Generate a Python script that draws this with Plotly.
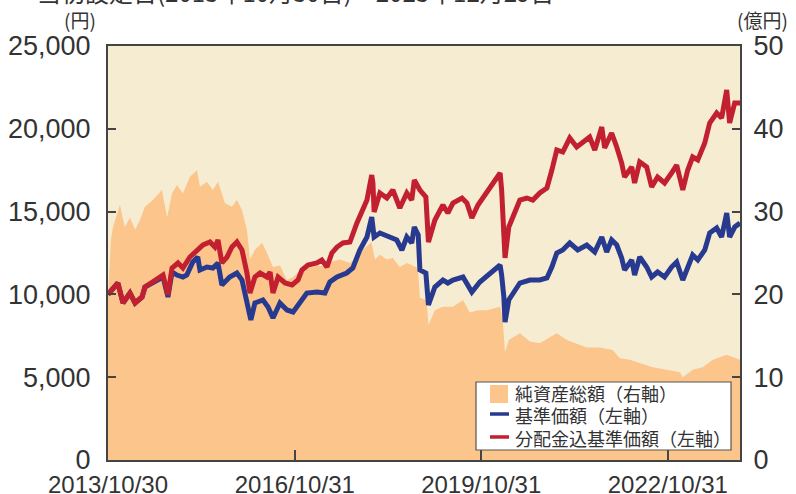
import plotly.graph_objects as go

# ---------------- data ----------------
nav_dates = [
    "2013-10-30", "2013-11-16", "2013-11-28", "2014-01-08", "2014-02-06", "2014-03-08",
    "2014-04-07", "2014-05-06", "2014-06-04", "2014-07-21", "2014-09-12", "2014-10-12",
    "2014-11-10", "2014-12-09", "2015-01-13", "2015-02-23", "2015-04-06", "2015-04-23",
    "2015-06-03", "2015-07-08", "2015-08-07", "2015-09-17", "2015-10-28", "2015-11-26",
    "2015-12-26", "2016-01-24", "2016-02-11", "2016-03-11", "2016-04-22", "2016-05-21",
    "2016-06-25", "2016-08-05", "2016-09-15", "2016-10-21", "2016-12-01", "2017-01-16",
    "2017-03-10", "2017-04-14", "2017-05-25", "2017-07-23", "2017-09-20", "2017-10-31",
    "2017-12-05", "2018-01-24", "2018-02-14", "2018-03-15", "2018-04-25", "2018-05-30",
    "2018-07-10", "2018-08-20", "2018-09-24", "2018-10-24", "2018-11-05", "2018-12-14",
    "2018-12-25", "2019-02-01", "2019-03-20", "2019-05-18", "2019-07-16", "2019-08-25",
    "2019-10-12", "2019-12-03", "2020-02-19", "2020-03-05", "2020-03-19", "2020-04-10",
    "2020-06-14", "2020-08-12", "2020-10-09", "2020-11-25", "2021-01-17", "2021-03-17",
    "2021-05-14", "2021-07-12", "2021-09-26", "2021-12-11", "2022-01-22", "2022-03-21",
    "2022-05-19", "2022-08-03", "2022-10-24", "2023-01-10", "2023-01-27", "2023-03-26",
    "2023-05-24", "2023-07-22", "2023-10-12", "2023-12-29",
]
nav_values = [  # 純資産総額 (億円)
    19.7, 26.6, 28.1, 30.8, 28.1, 29.3,
    27.8, 29.0, 30.6, 31.4, 32.6, 29.3,
    32.2, 33.2, 32.2, 34.2, 35.0, 33.0,
    33.6, 32.6, 33.6, 31.0, 30.6, 31.4,
    30.2, 27.8, 24.2, 25.4, 26.2, 25.0,
    23.3, 23.5, 21.7, 22.1, 22.9, 23.2,
    23.5, 23.4, 23.9, 24.2, 23.8, 24.5,
    25.4, 26.3, 24.2, 24.8, 24.2, 24.4,
    23.3, 23.8, 23.5, 23.2, 19.6, 19.3,
    16.3, 18.1, 18.5, 18.5, 19.3, 17.8,
    18.1, 18.1, 18.5, 16.9, 13.0, 14.5,
    15.3, 14.3, 14.1, 14.7, 15.3, 14.5,
    14.1, 13.6, 13.6, 13.3, 12.3, 12.1,
    11.7, 11.2, 10.9, 10.6, 10.0, 10.9,
    11.2, 12.1, 12.7, 12.1,
]

base_dates = [
    "2013-10-30", "2013-11-22", "2013-12-27", "2014-01-26", "2014-03-08", "2014-04-07",
    "2014-05-18", "2014-06-04", "2014-07-21", "2014-09-18", "2014-10-17", "2014-11-10",
    "2014-12-09", "2015-01-13", "2015-02-05", "2015-03-12", "2015-04-10", "2015-04-23",
    "2015-06-03", "2015-07-08", "2015-08-07", "2015-08-30", "2015-10-15", "2015-11-26",
    "2015-12-26", "2016-01-24", "2016-02-16", "2016-03-11", "2016-04-27", "2016-05-27",
    "2016-06-25", "2016-08-05", "2016-09-15", "2016-10-21", "2016-12-01", "2017-01-10",
    "2017-03-10", "2017-04-26", "2017-05-25", "2017-07-06", "2017-09-01", "2017-10-07",
    "2017-11-17", "2017-12-29", "2018-01-26", "2018-02-09", "2018-03-15", "2018-05-12",
    "2018-06-22", "2018-07-22", "2018-08-20", "2018-09-18", "2018-10-03", "2018-10-26",
    "2018-11-05", "2018-12-10", "2018-12-25", "2019-02-01", "2019-03-20", "2019-04-18",
    "2019-05-18", "2019-07-16", "2019-09-06", "2019-10-23", "2019-12-20", "2020-02-19",
    "2020-02-28", "2020-03-12", "2020-03-19", "2020-04-10", "2020-06-14", "2020-08-12",
    "2020-10-09", "2020-11-20", "2020-12-19", "2021-01-17", "2021-02-21", "2021-04-03",
    "2021-05-20", "2021-07-12", "2021-08-28", "2021-10-08", "2021-11-06", "2021-12-05",
    "2022-01-04", "2022-02-02", "2022-02-19", "2022-04-02", "2022-04-19", "2022-05-19",
    "2022-06-29", "2022-07-28", "2022-09-01", "2022-10-12", "2022-11-22", "2022-12-22",
    "2023-01-27", "2023-02-25", "2023-03-26", "2023-04-25", "2023-06-05", "2023-07-04",
    "2023-08-14", "2023-09-12", "2023-10-12", "2023-10-29", "2023-11-28", "2023-12-29",
]
base_values = [  # 基準価額 (円)
    10000, 10266, 10688, 9481, 10084, 9481,
    9843, 10447, 10688, 11051, 9843, 11353,
    11171, 11051, 11171, 11956, 12258, 11473,
    11654, 11594, 11896, 10568, 11051, 11292,
    10869, 9481, 8454, 9481, 9662, 9239,
    8575, 9481, 9058, 8937, 9481, 10084,
    10145, 10084, 10749, 11051, 11292, 11594,
    12681, 13466, 14674, 13466, 13708, 13466,
    13285, 12681, 13466, 13104, 14070, 13587,
    11473, 11292, 9360, 10447, 10869, 10688,
    10869, 11051, 10145, 10749, 11292, 11775,
    11171, 9843, 8333, 9662, 10688, 10869,
    10869, 10990, 11654, 12500, 12681, 13104,
    12681, 12983, 12560, 13466, 12560, 13285,
    12983, 12198, 11473, 12077, 11171, 12258,
    11654, 11051, 11353, 11051, 11654, 11956,
    10869, 11654, 12379, 12077, 12681, 13708,
    14010, 13466, 14915, 13466, 14070, 14311,
]

reinv_dates = [
    "2013-10-30", "2013-11-22", "2013-12-27", "2014-01-26", "2014-03-08", "2014-04-07",
    "2014-05-18", "2014-06-04", "2014-07-21", "2014-09-18", "2014-10-17", "2014-11-10",
    "2014-12-15", "2015-01-13", "2015-02-23", "2015-04-06", "2015-05-11", "2015-06-21",
    "2015-07-20", "2015-08-07", "2015-08-30", "2015-09-29", "2015-10-28", "2015-11-26",
    "2015-12-26", "2016-01-24", "2016-02-11", "2016-03-11", "2016-04-10", "2016-05-21",
    "2016-06-08", "2016-06-25", "2016-07-25", "2016-09-04", "2016-10-15", "2016-11-19",
    "2016-12-12", "2017-01-16", "2017-03-10", "2017-04-08", "2017-05-08", "2017-06-06",
    "2017-07-06", "2017-08-10", "2017-09-20", "2017-10-31", "2017-11-29", "2017-12-29",
    "2018-01-26", "2018-02-02", "2018-02-09", "2018-03-15", "2018-04-25", "2018-05-30",
    "2018-07-10", "2018-08-20", "2018-09-18", "2018-10-03", "2018-11-05", "2018-12-10",
    "2018-12-25", "2019-02-01", "2019-03-20", "2019-04-18", "2019-05-18", "2019-07-10",
    "2019-08-08", "2019-09-06", "2019-10-12", "2019-11-22", "2020-01-02", "2020-02-19",
    "2020-02-28", "2020-03-12", "2020-03-19", "2020-04-10", "2020-06-14", "2020-07-25",
    "2020-08-29", "2020-10-09", "2020-11-20", "2020-12-19", "2021-01-17", "2021-02-21",
    "2021-04-03", "2021-05-14", "2021-06-18", "2021-07-29", "2021-08-28", "2021-10-08",
    "2021-10-25", "2021-12-05", "2022-01-04", "2022-02-02", "2022-02-19", "2022-04-02",
    "2022-04-19", "2022-05-19", "2022-06-29", "2022-07-28", "2022-09-01", "2022-10-12",
    "2022-11-22", "2022-12-22", "2023-01-27", "2023-02-25", "2023-03-26", "2023-04-25",
    "2023-06-05", "2023-07-04", "2023-08-14", "2023-09-12", "2023-10-12", "2023-10-29",
    "2023-11-28", "2023-12-29",
]
reinv_values = [  # 分配金込基準価額 (円)
    10000, 10266, 10688, 9481, 10084, 9481,
    9843, 10447, 10749, 11171, 9964, 11594,
    11896, 11594, 12258, 12681, 12983, 13164,
    12862, 13285, 11896, 12258, 12862, 13164,
    12681, 11292, 10084, 11051, 11292, 11051,
    11353, 10084, 11051, 10688, 10568, 10869,
    11473, 11775, 11896, 12077, 11654, 12500,
    12862, 13104, 13164, 14311, 15097, 15700,
    17210, 16727, 14976, 16123, 15821, 16304,
    15217, 16123, 15700, 16908, 16304, 15882,
    13164, 14493, 15398, 14915, 15519, 15821,
    15519, 14613, 15398, 16002, 16727, 17331,
    16304, 13466, 12198, 14070, 15700, 15821,
    15700, 16123, 16425, 17512, 18720, 18599,
    19444, 18901, 19203, 19505, 18720, 20109,
    18840, 19746, 18901, 17935, 17089, 17693,
    16727, 17995, 17693, 16485, 17089, 16727,
    17331, 17814, 16304, 17512, 18297, 18116,
    19142, 20350, 20954, 20652, 22343, 20350,
    21558, 21558,
]

x_tick_vals = ["2013-10-30", "2016-10-31", "2019-10-31", "2022-10-31"]
x_tick_text = ["2013/10/30", "2016/10/31", "2019/10/31", "2022/10/31"]
left_ticks = [0, 5000, 10000, 15000, 20000, 25000]
right_ticks = [0, 10, 20, 30, 40, 50]
legend_labels = ["純資産総額（右軸）", "基準価額（左軸）", "分配金込基準価額（左軸）"]

# ---------------- style ----------------
BG = "#F5ECD2"
AREA = "#FBC58B"
BLUE = "#283A90"
RED = "#C21F30"
TXT = "#333333"
AX = "#444444"
FONT = "Liberation Sans"
JFONT = "Noto Sans CJK JP"

fig = go.Figure()
fig.add_trace(go.Scatter(
    x=nav_dates, y=nav_values, name=legend_labels[0],
    mode="lines", line=dict(width=0, color=AREA), fill="tozeroy",
    fillcolor=AREA, yaxis="y", showlegend=False,
))
fig.add_trace(go.Scatter(
    x=base_dates, y=base_values, name=legend_labels[1],
    mode="lines", line=dict(width=5, color=BLUE), yaxis="y2", showlegend=False,
))
fig.add_trace(go.Scatter(
    x=reinv_dates, y=reinv_values, name=legend_labels[2],
    mode="lines", line=dict(width=5, color=RED), yaxis="y2", showlegend=False,
))

fig.update_layout(
    width=796, height=494,
    margin=dict(l=108, r=56, t=46, b=34),
    paper_bgcolor="white", plot_bgcolor=BG,
    font=dict(family=FONT, color=TXT, size=24),
    showlegend=False,
    xaxis=dict(
        type="date", range=["2013-10-30", "2023-12-29"], automargin=False,
        tickmode="array", tickvals=x_tick_vals, ticktext=x_tick_text,
        ticks="inside", ticklen=10, tickwidth=1.5, tickcolor=AX,
        showline=True, linecolor=AX, linewidth=2, mirror=True,
        showgrid=False, zeroline=False, ticklabelstandoff=2,
        tickfont=dict(family=FONT, size=24, color=TXT),
    ),
    yaxis=dict(
        side="right", range=[0, 50], tickmode="array", tickvals=right_ticks,
        automargin=False,
        ticks="inside", ticklen=8, tickwidth=1.5, tickcolor=AX,
        showline=True, linecolor=AX, linewidth=2,
        showgrid=False, zeroline=False, ticklabelstandoff=6,
        tickfont=dict(family=FONT, size=27, color=TXT),
    ),
    yaxis2=dict(
        overlaying="y", side="left", range=[0, 25000], tickmode="array",
        tickvals=left_ticks, tickformat=",", automargin=False,
        ticks="inside", ticklen=8, tickwidth=1.5, tickcolor=AX,
        showline=True, linecolor=AX, linewidth=2,
        showgrid=False, zeroline=False, ticklabelstandoff=10,
        tickfont=dict(family=FONT, size=27, color=TXT),
    ),
)

# header texts
fig.add_annotation(
    text="当初設定日(2013年10月30日)～2023年12月29日",
    xref="paper", yref="paper", x=-0.116, y=1.0845,
    xanchor="left", yanchor="bottom", showarrow=False,
    font=dict(family=JFONT, size=24, color=TXT),
)
fig.add_annotation(
    text="(円)", xref="paper", yref="paper", x=-0.044, y=1.065,
    xanchor="center", yanchor="middle", showarrow=False,
    font=dict(family=JFONT, size=19, color=TXT),
)
fig.add_annotation(
    text="(億円)", xref="paper", yref="paper", x=1.035, y=1.065,
    xanchor="center", yanchor="middle", showarrow=False,
    font=dict(family=JFONT, size=19, color=TXT),
)

# legend box (drawn by hand to match the reference's compact layout)
fig.add_shape(type="rect", xref="paper", yref="paper",
              x0=0.5823, x1=0.9858, y0=0.0242, y1=0.1884,
              fillcolor="white", line=dict(color="#555555", width=1.2), layer="above")
fig.add_shape(type="rect", xref="paper", yref="paper",
              x0=0.6044, x1=0.6329, y0=0.1377, y1=0.1812,
              fillcolor=AREA, line=dict(width=0), layer="above")
fig.add_shape(type="line", xref="paper", yref="paper",
              x0=0.6044, x1=0.6345, y0=0.1111, y1=0.1111,
              line=dict(color=BLUE, width=3.5), layer="above")
fig.add_shape(type="line", xref="paper", yref="paper",
              x0=0.6044, x1=0.6345, y0=0.0556, y1=0.0556,
              line=dict(color=RED, width=3.5), layer="above")
for lbl, yy in zip(legend_labels, [0.1618, 0.1087, 0.0531]):
    fig.add_annotation(
        text=lbl, xref="paper", yref="paper", x=0.6408, y=yy,
        xanchor="left", yanchor="middle", showarrow=False, height=20,
        font=dict(family=JFONT, size=18, color=TXT),
    )

# remove the browser's default page margin so the figure sits at (0, 0)
fig.write_html(
    "out.html",
    config={"displayModeBar": False},
    post_script="document.body.style.margin='0';",
)
